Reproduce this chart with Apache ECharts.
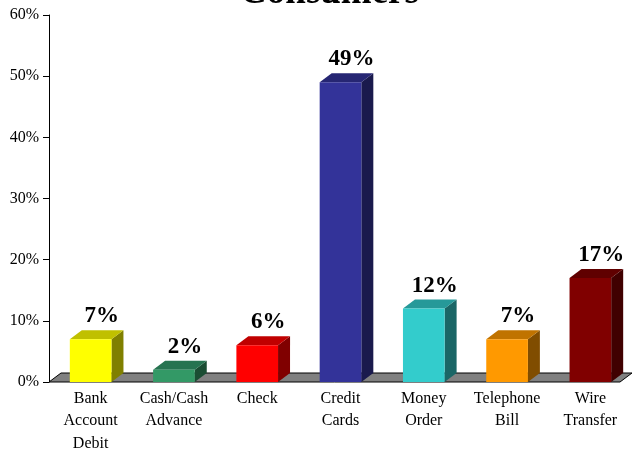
<!DOCTYPE html>
<html>
<head>
<meta charset="utf-8">
<script src="https://cdn.jsdelivr.net/npm/echarts@6/dist/echarts.min.js"></script>
<style>
html,body{margin:0;padding:0;background:#fff;}
#c{width:634px;height:450px;}
</style>
</head>
<body>
<div id="c"></div>
<script>
const categories = ['Bank\nAccount\nDebit', 'Cash/Cash\nAdvance', 'Check', 'Credit\nCards', 'Money\nOrder', 'Telephone\nBill', 'Wire\nTransfer'];
const values = [7, 2, 6, 49, 12, 7, 17];
const yTicks = [0, 10, 20, 30, 40, 50, 60];
const frontColors = ['#FFFF00', '#339966', '#FF0000', '#333399', '#33CCCC', '#FF9900', '#800000'];
const topColors   = ['#C0C000', '#267350', '#C00000', '#262673', '#269999', '#C07300', '#600000'];
const sideColors  = ['#808000', '#1A4D33', '#800000', '#1A1A4D', '#1A6666', '#804D00', '#400000'];

const DX = 12, DY = 9;
const FONT = '"Liberation Serif", "Times New Roman", serif';

const chart = echarts.init(document.getElementById('c'), null, {renderer: 'canvas'});

chart.setOption({
  backgroundColor: '#fff',
  animation: false,
  graphic: [{
    type: 'text',
    x: 329.5,
    y: -7,
    style: {
      text: 'Consumers',
      fill: '#000',
      font: 'bold 37px ' + FONT,
      align: 'center',
      verticalAlign: 'middle'
    }
  }],
  grid: {left: 49, right: 2, top: 15, bottom: 68, containLabel: false, outerBoundsMode: 'none'},
  xAxis: {
    type: 'category',
    data: categories,
    axisLine: {show: false},
    axisTick: {show: false},
    axisLabel: {
      interval: 0,
      margin: 5,
      color: '#000',
      fontFamily: FONT,
      fontSize: 16,
      lineHeight: 22.7
    },
    splitLine: {show: false}
  },
  yAxis: {
    type: 'value',
    min: yTicks[0],
    max: yTicks[yTicks.length - 1],
    interval: yTicks[1] - yTicks[0],
    axisLine: {show: true, lineStyle: {color: '#000', width: 1}},
    axisTick: {show: true, inside: false, length: 6, lineStyle: {color: '#000'}},
    axisLabel: {
      formatter: '{value}%',
      color: '#000',
      fontFamily: FONT,
      fontSize: 16,
      margin: 10
    },
    splitLine: {show: false}
  },
  series: [
    {
      type: 'custom',
      z: 1,
      silent: true,
      data: [[0, 0]],
      renderItem: function (params, api) {
        const cs = params.coordSys;
        const yb = api.coord([0, 0])[1];
        const xl = cs.x, xr = cs.x + cs.width - DX;
        return {
          type: 'polygon',
          shape: {points: [[xl, yb], [xr, yb], [xr + DX, yb - DY], [xl + DX, yb - DY]]},
          style: {fill: '#808080', stroke: '#000', lineWidth: 1}
        };
      }
    },
    {
      type: 'custom',
      z: 2,
      data: values.map(function (v, i) { return [i, v]; }),
      renderItem: function (params, api) {
        const i = api.value(0);
        const v = api.value(1);
        const p0 = api.coord([i, 0]);
        const p1 = api.coord([i, v]);
        const bw = api.size([1, 0])[0] * 0.5;
        const x0 = p0[0] - bw / 2, x1 = p0[0] + bw / 2;
        const yb = p0[1], yt = p1[1];
        const idx = params.dataIndex;
        return {
          type: 'group',
          children: [
            {
              type: 'polygon',
              shape: {points: [[x1, yb], [x1, yt], [x1 + DX, yt - DY], [x1 + DX, yb - DY]]},
              style: {fill: sideColors[idx]}
            },
            {
              type: 'polygon',
              shape: {points: [[x0, yt], [x1, yt], [x1 + DX, yt - DY], [x0 + DX, yt - DY]]},
              style: {fill: topColors[idx]}
            },
            {
              type: 'rect',
              shape: {x: x0, y: yt, width: x1 - x0, height: yb - yt},
              style: {fill: frontColors[idx]}
            },
            {
              type: 'text',
              x: p0[0] + 11,
              y: yt - 23,
              style: {
                text: v + '%',
                fill: '#000',
                font: 'bold 23px ' + FONT,
                align: 'center',
                verticalAlign: 'middle'
              }
            }
          ]
        };
      }
    }
  ]
});
</script>
</body>
</html>
